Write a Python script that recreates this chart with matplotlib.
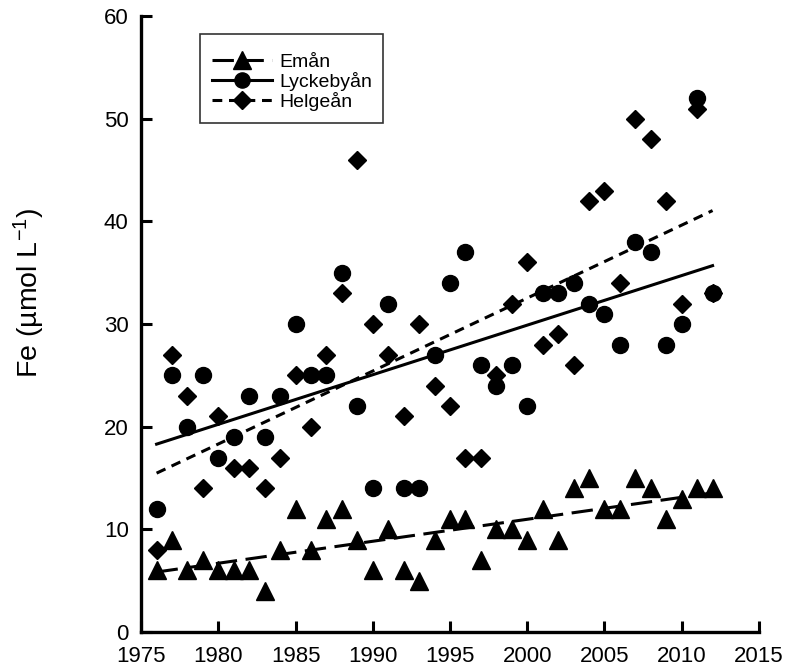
import numpy as np
import matplotlib
matplotlib.use('Agg')
import matplotlib.pyplot as plt

plt.rcParams['font.family'] = ['Liberation Sans', 'DejaVu Sans']
plt.rcParams['mathtext.default'] = 'regular'

# annual mean Fe concentrations
years = list(range(1976, 2013))
eman = [6, 9, 6, 7, 6, 6, 6, 4, 8, 12, 8, 11, 12, 9, 6, 10, 6, 5, 9, 11,
        11, 7, 10, 10, 9, 12, 9, 14, 15, 12, 12, 15, 14, 11, 13, 14, 14]
lyckeby = [12, 25, 20, 25, 17, 19, 23, 19, 23, 30, 25, 25, 35, 22, 14, 32, 14, 14, 27, 34,
           37, 26, 24, 26, 22, 33, 33, 34, 32, 31, 28, 38, 37, 28, 30, 52, 33]
helge = [8, 27, 23, 14, 21, 16, 16, 14, 17, 25, 20, 27, 33, 46, 30, 27, 21, 30, 24, 22,
         17, 17, 25, 32, 36, 28, 29, 26, 42, 43, 34, 50, 48, 42, 32, 51, 33]

x = np.array(years)

fig = plt.figure(figsize=(7.93, 6.71), dpi=100)
ax = fig.add_axes([0.178, 0.058, 0.779, 0.918])

# series: name, values, marker, marker size, line style
series = [
    ("Emån", eman, '^', 13, (0, (7, 2.8))),
    ("Lyckebyån", lyckeby, 'o', 11.5, '-'),
    ("Helgeån", helge, 'D', 9.5, (0, (3.2, 2.2))),
]

for name, vals, mk, ms, ls in series:
    y = np.array(vals)
    k, m = np.polyfit(x, y, 1)
    ax.plot(x, y, linestyle='none', marker=mk, ms=ms, color='black', zorder=3)
    ax.plot([x[0], x[-1]], [k * x[0] + m, k * x[-1] + m], color='black', lw=2.2, linestyle=ls)
    # proxy for the legend
    ax.plot([], [], color='black', lw=2.2, linestyle=ls, marker=mk, ms=ms, label=name)

ax.set_xlim(1975, 2015)
ax.set_ylim(0, 60)
ax.set_xticks(range(1975, 2016, 5))
ax.set_yticks(range(0, 61, 10))
ax.tick_params(direction='in', length=8, width=2.2, labelsize=16)
ax.tick_params(axis='y', pad=9)
ax.tick_params(axis='x', pad=10)
for s in ['top', 'right']:
    ax.spines[s].set_visible(False)
for s in ['left', 'bottom']:
    ax.spines[s].set_linewidth(2.4)

ax.set_ylabel('Fe (µmol L$^{-1}$)', fontsize=20.5)
ax.yaxis.set_label_coords(-0.152, 0.55)

leg = ax.legend(loc='upper left', bbox_to_anchor=(0.0955, 0.971), borderaxespad=0,
                fontsize=14, frameon=True, fancybox=False, edgecolor='black',
                handlelength=3.1, borderpad=0.6, labelspacing=0.05, handletextpad=0.35,
                markerscale=0.95, title=' ', title_fontsize=5)
leg.get_frame().set_linewidth(1.2)

fig.savefig('out.png', dpi=100)
